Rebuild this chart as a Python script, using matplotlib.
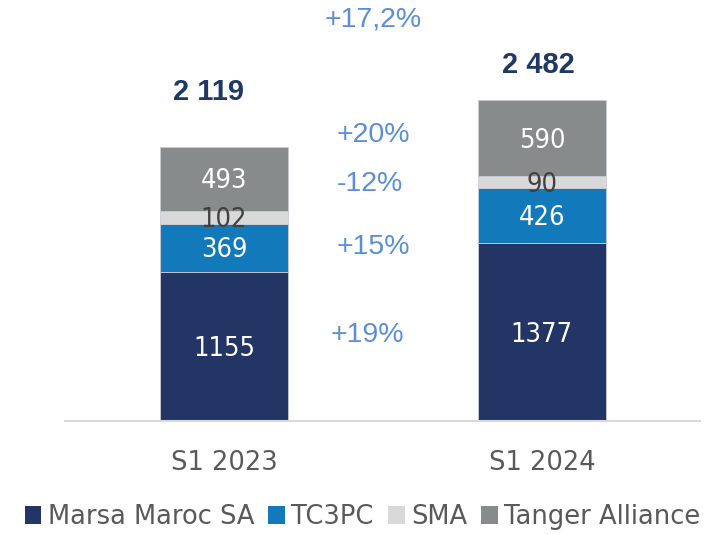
import matplotlib.pyplot as plt
from matplotlib.patches import Patch

periods = ['S1 2023', 'S1 2024']
series = ['Marsa Maroc SA', 'TC3PC', 'SMA', 'Tanger Alliance']
marsa = [1155, 1377]
tc3pc = [369, 426]
sma = [102, 90]
tanger = [493, 590]
totals = ['2 119', '2 482']
growth = ['+19%', '+15%', '-12%', '+20%']
growth_total = '+17,2%'

colors = ['#223564', '#1279BA', '#D9D9D9', '#888B8C']
label_colors = ['white', 'white', '#404040', 'white']
pct_color = '#5B8ED6'

fig = plt.figure(figsize=(7.18, 5.35), dpi=100)
# axes placed so the baseline sits where it does in the reference
ax = fig.add_axes([65 / 718, 114 / 535, 635 / 718, 421 / 535])

x = [0, 1]
bottom = [0, 0]
for vals, name, c, lc in zip([marsa, tc3pc, sma, tanger], series, colors, label_colors):
    ax.bar(x, vals, bottom=bottom, width=0.40, color=c, label=name,
           edgecolor='#C8CCD4', linewidth=0.6)
    for i in x:
        ax.text(i, bottom[i] + vals[i] / 2 - 20, str(vals[i]), ha='center', va='center',
                fontsize=19.5, color=lc, family='DejaVu Sans', fontstretch='condensed')
    bottom = [b + v for b, v in zip(bottom, vals)]

# totals above bars
ax.text(-0.05, bottom[0] + 425, totals[0], ha='center', va='center', fontsize=21,
        fontweight='bold', color='#1F3864', family='Liberation Sans')
ax.text(0.99, bottom[1] + 271, totals[1], ha='center', va='center', fontsize=21,
        fontweight='bold', color='#1F3864', family='Liberation Sans')

# growth rates between bars
pct_y = [665, 1346, 1833, 2212]
pct_x = [0.45, 0.47, 0.46, 0.47]
for px, py, g in zip(pct_x, pct_y, growth):
    ax.text(px, py, g, ha='center', va='center', fontsize=20.5, color=pct_color,
            family='Liberation Sans')
ax.text(0.47, 3105, growth_total, ha='center', va='center', fontsize=20.5,
        color=pct_color, family='Liberation Sans')

ax.set_xlim(-0.5, 1.497)
ax.set_ylim(0, 421 / 0.1293)
ax.set_xticks(x)
ax.set_xticklabels(periods, fontsize=18.5, color='#595959')
ax.tick_params(axis='x', length=0, pad=21)
ax.set_yticks([])
for s in ['top', 'right', 'left']:
    ax.spines[s].set_visible(False)
ax.spines['bottom'].set_color('#D9D9D9')
ax.spines['bottom'].set_linewidth(1.5)

handles = [Patch(facecolor=c) for c in colors]
fig.legend(handles, series, loc='center', bbox_to_anchor=(0.505, 18 / 535), ncol=4,
           frameon=False, fontsize=18.5, handlelength=0.65, handleheight=0.65,
           handletextpad=0.25, columnspacing=0.55, labelcolor='#595959')

fig.savefig('out.png', dpi=100)
